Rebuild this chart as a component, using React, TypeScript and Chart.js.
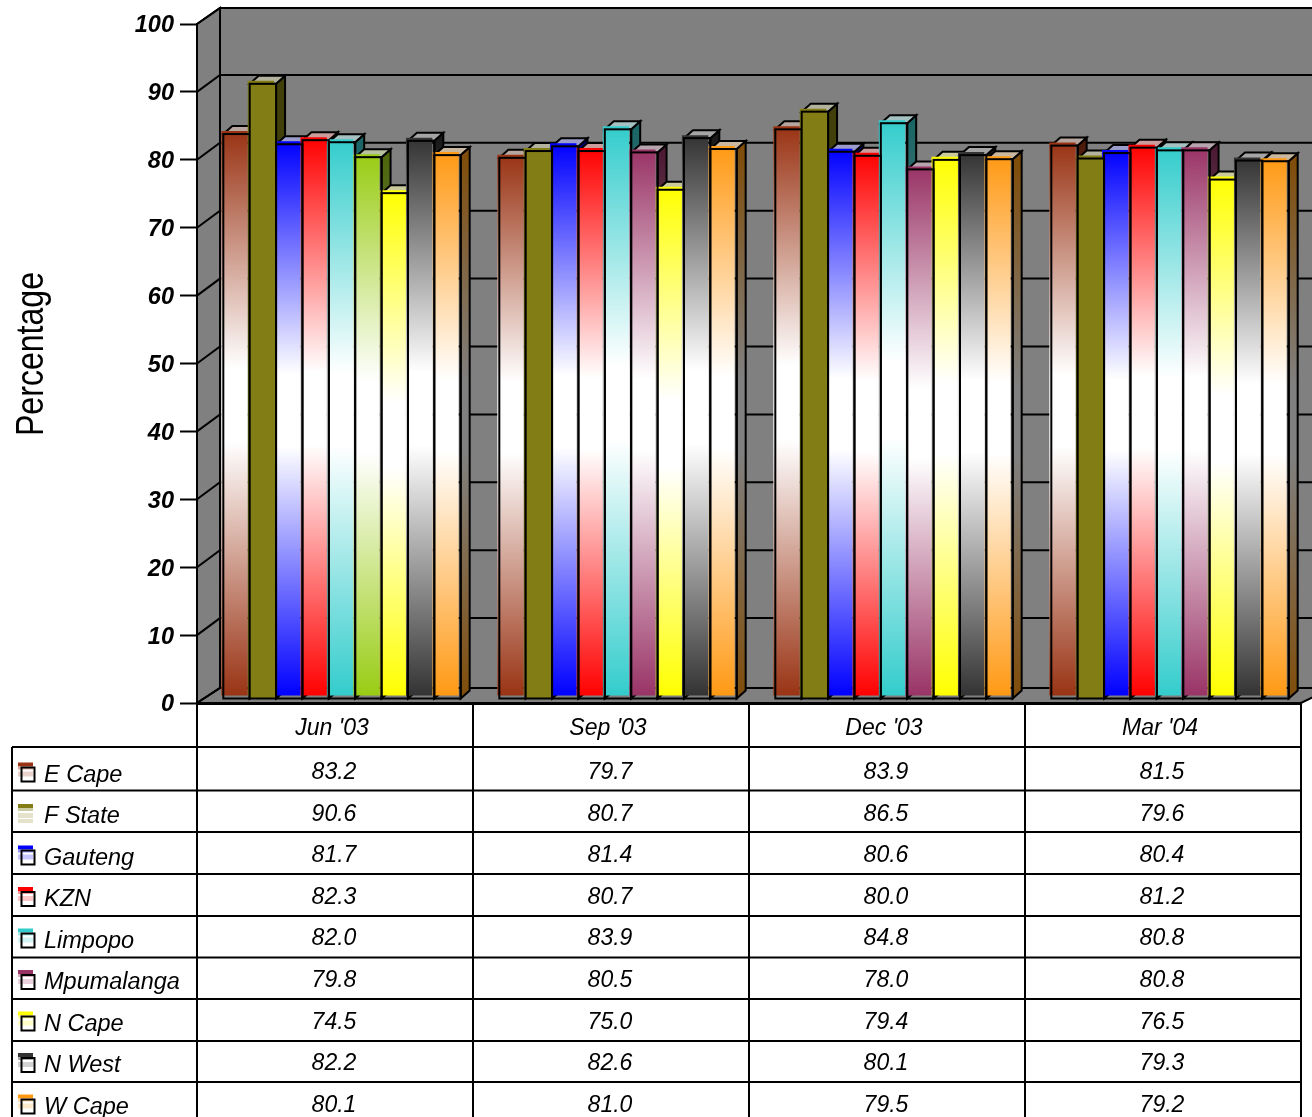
import React, { useEffect, useRef } from "react";
import { Chart, registerables } from "chart.js";

Chart.register(...registerables);

const categories = ["Jun '03", "Sep '03", "Dec '03", "Mar '04"];
const seriesNames = ["E Cape", "F State", "Gauteng", "KZN", "Limpopo", "Mpumalanga", "N Cape", "N West", "W Cape"];
const eCape = [83.2, 79.7, 83.9, 81.5];
const fState = [90.6, 80.7, 86.5, 79.6];
const gauteng = [81.7, 81.4, 80.6, 80.4];
const kzn = [82.3, 80.7, 80.0, 81.2];
const limpopo = [82.0, 83.9, 84.8, 80.8];
const mpumalanga = [79.8, 80.5, 78.0, 80.8];
const nCape = [74.5, 75.0, 79.4, 76.5];
const nWest = [82.2, 82.6, 80.1, 79.3];
const wCape = [80.1, 81.0, 79.5, 79.2];
const seriesValues = [eCape, fState, gauteng, kzn, limpopo, mpumalanga, nCape, nWest, wCape];
const yTicks = [0, 10, 20, 30, 40, 50, 60, 70, 80, 90, 100];

const seriesColors = ["#993314", "#827d14", "#0000ff", "#ff0000", "#33cccc", "#993366", "#ffff00", "#333333", "#ff9914"];
const firstMpumalangaColor = "#99cc14";
const solidSeries = 1;
const FONT = "'Liberation Sans', Arial, sans-serif";

const SHIFT_X = 5;
const SHIFT_Y = -7;
const EDGE_X = 2;
const EDGE_Y = 3;
const DEPTH_X = 9;
const DEPTH_Y = -8;
const WALL_X = 23;

function wallOffset(v: number) {
  if (v === 0) return -15;
  if (v === 100) return -16;
  return -17;
}
function colorOf(s: number, i: number) {
  return s === 5 && i === 0 ? firstMpumalangaColor : seriesColors[s];
}
function rgb(hex: string) {
  return [1, 3, 5].map((p) => parseInt(hex.slice(p, p + 2), 16));
}
function mix(hex: string, other: number[], a: number) {
  const c = rgb(hex);
  return `rgb(${c.map((v, k) => Math.round(v * a + other[k] * (1 - a))).join(",")})`;
}
function barGradient(ctx: CanvasRenderingContext2D, top: number, bottom: number, hex: string, dark: boolean, s: number) {
  const end = dark ? mix(hex, [0, 0, 0], 0.5) : hex;
  if (s === solidSeries || !Number.isFinite(top) || !Number.isFinite(bottom)) return end;
  const mid = dark ? "#808080" : "#ffffff";
  const g = ctx.createLinearGradient(0, top, 0, bottom);
  g.addColorStop(0, end);
  g.addColorStop(0.42, mid);
  g.addColorStop(0.55, mid);
  g.addColorStop(1, end);
  return g;
}
function poly(ctx: CanvasRenderingContext2D, pts: number[][], fill: any, stroke = true) {
  ctx.beginPath();
  pts.forEach((p, i) => (i ? ctx.lineTo(p[0], p[1]) : ctx.moveTo(p[0], p[1])));
  ctx.closePath();
  ctx.fillStyle = fill;
  ctx.fill();
  if (stroke) {
    ctx.strokeStyle = "#000";
    ctx.lineWidth = 2;
    ctx.stroke();
  }
}
function eachBar(chart: any, fn: (s: number, i: number, l: number, r: number, t: number, b: number) => void) {
  seriesValues.forEach((vals, s) => {
    const meta = chart.getDatasetMeta(s);
    vals.forEach((_, i) => {
      const el = meta.data[i];
      const p = el.getProps(["x", "y", "base", "width"], true);
      const l = p.x - p.width / 2 + SHIFT_X + EDGE_X;
      const r = l + p.width;
      const t = p.y + SHIFT_Y + EDGE_Y;
      const b = p.base + SHIFT_Y + EDGE_Y;
      fn(s, i, l, r, t, b);
    });
  });
}

const scenePlugin = {
  id: "scene",
  beforeDraw(chart: any) {
    const { ctx, chartArea: a, scales, width } = chart;
    const y = scales.y;
    const top = y.getPixelForValue(100);
    const bottom = y.getPixelForValue(0);
    const bx = a.left + WALL_X;
    const right = width + 20;
    const backTop = top + wallOffset(100);
    const backBottom = bottom + wallOffset(0);
    ctx.save();
    // back wall, left wall and floor
    poly(ctx, [[bx, backTop], [right, backTop], [right, backBottom], [bx, backBottom]], "#808080");
    poly(ctx, [[a.left, top], [bx, backTop], [bx, backBottom], [a.left, bottom]], "#808080");
    poly(ctx, [[a.left, bottom], [bx, backBottom], [right, backBottom], [a.right, bottom]], "#808080");
    ctx.strokeStyle = "#000";
    ctx.lineWidth = 2;
    yTicks.forEach((v) => {
      const py = y.getPixelForValue(v);
      ctx.beginPath();
      ctx.moveTo(a.left, py);
      ctx.lineTo(bx, py + wallOffset(v));
      ctx.lineTo(right, py + wallOffset(v));
      ctx.stroke();
    });
    ctx.restore();
  },
  beforeDatasetsDraw(chart: any) {
    const { ctx } = chart;
    ctx.save();
    ctx.lineJoin = "miter";
    eachBar(chart, (s, i, l, r, t, b) => {
      const hex = colorOf(s, i);
      poly(ctx, [[r, t], [r + DEPTH_X, t + DEPTH_Y], [r + DEPTH_X, b + DEPTH_Y], [r, b]], barGradient(ctx, t, b, hex, true, s));
      poly(ctx, [[l, t], [r, t], [r + DEPTH_X, t + DEPTH_Y], [l + DEPTH_X, t + DEPTH_Y]], mix(hex, [190, 190, 190], 0.18));
    });
    ctx.restore();
    ctx.save();
    ctx.translate(SHIFT_X, SHIFT_Y);
  },
  afterDatasetsDraw(chart: any) {
    const { ctx } = chart;
    ctx.restore();
    ctx.save();
    ctx.strokeStyle = "#000";
    ctx.lineWidth = 2;
    eachBar(chart, (s, i, l, r, t, b) => {
      if (s === solidSeries) {
        ctx.fillStyle = seriesColors[s];
        ctx.fillRect(l, t, r - l, b - t);
      }
      ctx.strokeRect(l, t, r - l, b - t);
    });
    ctx.restore();
  },
  afterDraw(chart: any) {
    const { ctx, chartArea: a, scales } = chart;
    const x = scales.x;
    const step = (a.right - a.left) / categories.length;
    const rowLines = [747, 790.5, 832, 874, 916, 957.5, 999, 1041, 1082];
    ctx.save();
    ctx.strokeStyle = "#000";
    ctx.lineWidth = 2;
    ctx.beginPath();
    rowLines.forEach((ly) => {
      ctx.moveTo(12, ly);
      ctx.lineTo(a.right, ly);
    });
    ctx.moveTo(12, rowLines[0]);
    ctx.lineTo(12, 1117);
    categories.forEach((_, i) => {
      const vx = a.left + step * i;
      ctx.moveTo(vx, a.bottom);
      ctx.lineTo(vx, 1117);
    });
    ctx.moveTo(a.right, a.bottom);
    ctx.lineTo(a.right, 1117);
    ctx.stroke();

    ctx.fillStyle = "#000";
    ctx.textBaseline = "alphabetic";
    seriesNames.forEach((name, s) => {
      const labelBase = 781.5 + 41.5 * s;
      const valueBase = 779 + 41.6 * s;
      // legend key
      const top = labelBase - 19;
      const hex = seriesColors[s];
      ctx.fillStyle = hex;
      ctx.fillRect(18, top, 15, 4);
      ctx.fillStyle = mix(hex, [255, 255, 255], 0.4);
      ctx.fillRect(18, top + 4, 15, 3);
      ctx.fillStyle = mix(hex, [255, 255, 255], 0.22);
      ctx.fillRect(18, top + 9, 15, 5);
      if (s !== solidSeries) {
        ctx.strokeRect(21.5, top + 5, 13, 14);
      } else {
        ctx.fillStyle = mix(hex, [255, 255, 255], 0.22);
        ctx.fillRect(18, top + 15, 15, 4);
      }
      ctx.fillStyle = "#000";
      ctx.textAlign = "left";
      ctx.font = `italic 23.5px ${FONT}`;
      ctx.fillText(name, 44, labelBase);
      ctx.textAlign = "center";
      ctx.font = `italic 23px ${FONT}`;
      seriesValues[s].forEach((v, i) => {
        ctx.fillText(v.toFixed(1), x.getPixelForValue(i) - 1, valueBase);
      });
    });

    // axis title
    ctx.translate(43, 354);
    ctx.rotate(-Math.PI / 2);
    ctx.scale(0.844, 1);
    ctx.textAlign = "center";
    ctx.font = `38px ${FONT}`;
    ctx.fillText("Percentage", 0, 0);
    ctx.restore();
  },
};

export default function App() {
  const ref = useRef<HTMLCanvasElement>(null);
  useEffect(() => {
    const chart = new Chart(ref.current as HTMLCanvasElement, {
      type: "bar",
      data: {
        labels: categories,
        datasets: seriesValues.map((values, s) => ({
          label: seriesNames[s],
          data: values,
          borderWidth: 0,
          clip: false as any,
          categoryPercentage: 0.86,
          barPercentage: 1,
          backgroundColor: (c: any) => {
            const y = c.chart.scales.y;
            if (!y || c.dataIndex === undefined) return seriesColors[s];
            return barGradient(
              c.chart.ctx,
              y.getPixelForValue(values[c.dataIndex]),
              y.getPixelForValue(0),
              colorOf(s, c.dataIndex),
              false,
              s
            );
          },
        })),
      },
      plugins: [scenePlugin],
      options: {
        animation: false,
        responsive: false,
        devicePixelRatio: 1,
        layout: { padding: { left: 0, right: 11, top: 24, bottom: 370 } },
        plugins: { legend: { display: false }, tooltip: { enabled: false }, title: { display: false } },
        scales: {
          x: {
            afterFit: (s: any) => { s.height = 44; },
            grid: { display: false },
            border: { display: true, color: "#000", width: 3 },
            ticks: {
              color: "#000",
              padding: 4,
              labelOffset: -3,
              maxRotation: 0,
              font: { family: FONT, size: 23, style: "italic" },
            },
          },
          y: {
            min: 0,
            max: 100,
            afterFit: (s: any) => { s.width = 197; },
            grid: { drawOnChartArea: false, color: "#000", tickLength: 17, tickWidth: 2 },
            border: { display: true, color: "#000", width: 2 },
            ticks: {
              color: "#000",
              stepSize: 10,
              padding: 6,
              labelOffset: 2,
              font: { family: FONT, size: 23.5, style: "italic", weight: "bold" },
            },
          },
        },
      } as any,
    });
    return () => chart.destroy();
  }, []);
  return (
    <div style={{ position: "absolute", left: 0, top: 0, width: 1312, height: 1117, background: "#fff", overflow: "hidden" }}>
      <canvas ref={ref} width={1312} height={1117} style={{ display: "block" }} />
    </div>
  );
}
